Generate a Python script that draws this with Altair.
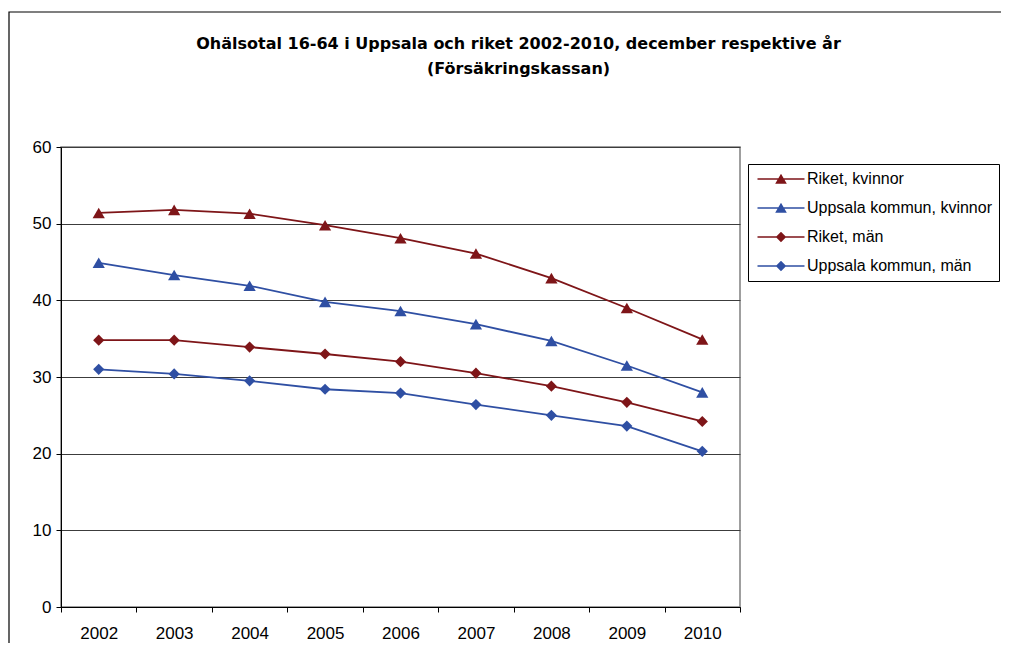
import altair as alt
import pandas as pd

years = ["2002", "2003", "2004", "2005", "2006", "2007", "2008", "2009", "2010"]
series = ["Riket, kvinnor", "Uppsala kommun, kvinnor", "Riket, män", "Uppsala kommun, män"]
riket_kvinnor = [51.4, 51.8, 51.3, 49.8, 48.1, 46.1, 42.9, 39.0, 34.9]
uppsala_kvinnor = [44.9, 43.3, 41.9, 39.8, 38.6, 36.9, 34.7, 31.5, 28.0]
riket_man = [34.8, 34.8, 33.9, 33.0, 32.0, 30.5, 28.8, 26.7, 24.2]
uppsala_man = [31.0, 30.4, 29.5, 28.4, 27.9, 26.4, 25.0, 23.6, 20.3]

colors = ["#7E1518", "#2F4FA3", "#7E1518", "#2F4FA3"]
kvinnor_series = series[:2]
man_series = series[2:]

# legend symbols (filled paths): a thin bar with the marker in the middle
TRI = "M-1,-0.13L7.545,-0.13L7.545,0.13L-1,0.13ZM3.273,-0.95L4.33,0.85L2.216,0.85Z"
DIA = "M-1,-0.13L7.545,-0.13L7.545,0.13L-1,0.13ZM3.273,-0.95L4.223,0L3.273,0.95L2.323,0Z"
legend_shapes = [TRI, TRI, DIA, DIA]

rows = []
for name, vals in zip(series, [riket_kvinnor, uppsala_kvinnor, riket_man, uppsala_man]):
    for y, v in zip(years, vals):
        rows.append({"year": y, "value": v, "series": name})
df = pd.DataFrame(rows)

FONT = "Liberation Sans"

x_enc = alt.X(
    "year:O",
    bandPosition=0.5,
    scale=alt.Scale(type="band", paddingInner=0, paddingOuter=0),
    axis=alt.Axis(
        title=None, tickBand="extent", labelAngle=0, tickSize=5,
        labelPadding=13, labelFontSize=17, labelFont=FONT, labelColor="#000",
        domainColor="#000", tickColor="#000", grid=False,
    ),
)
y_enc = alt.Y(
    "value:Q",
    scale=alt.Scale(domain=[0, 60], nice=False),
    axis=alt.Axis(
        title=None, values=[0, 10, 20, 30, 40, 50, 60], tickSize=5,
        labelPadding=5, labelFontSize=17, labelFont=FONT, labelColor="#000",
        domainColor="#000", tickColor="#000", grid=True, gridColor="#3c3c3c",
        gridOpacity=1, gridWidth=1,
    ),
)
# marks use the series in reverse order so their (hidden) legends stay separate
mark_scale = alt.Scale(domain=series[::-1], range=colors[::-1])
legend_scale = alt.Scale(domain=series, range=colors)

base = alt.Chart(df)

lines = base.mark_line(strokeWidth=1.8).encode(
    x=x_enc, y=y_enc,
    stroke=alt.Stroke("series:N", scale=mark_scale, legend=None),
    detail="series:N",
)
tri_points = base.transform_filter(
    alt.FieldOneOfPredicate(field="series", oneOf=kvinnor_series)
).mark_point(filled=True, opacity=1, size=150, shape="triangle-up").encode(
    x=x_enc, y=y_enc,
    fill=alt.Fill("series:N", scale=mark_scale, legend=None),
)
dia_points = base.transform_filter(
    alt.FieldOneOfPredicate(field="series", oneOf=man_series)
).mark_point(filled=True, opacity=1, size=125, shape="diamond").encode(
    x=x_enc, y=y_enc,
    fill=alt.Fill("series:N", scale=mark_scale, legend=None),
)

legend = alt.Legend(
    title=None, orient="none", legendX=687, legendY=17,
    strokeColor="#000", fillColor="#fff", padding=7, rowPadding=13,
    labelFontSize=16, labelFont=FONT, labelColor="#000", labelLimit=400,
    labelOffset=36, symbolSize=121,
)
legend_layer = base.mark_point(filled=True, size=121, opacity=1, clip=True).encode(
    x=alt.value(-1000), y=alt.value(-1000),
    color=alt.Color("series:N", scale=legend_scale, legend=legend),
    shape=alt.Shape("series:N", scale=alt.Scale(domain=series, range=legend_shapes), legend=legend),
)

border = alt.Chart(alt.Data(values=[{"a": 1}])).mark_rect(
    fill="transparent", stroke="#000", strokeWidth=1.2, clip=False
).encode(
    x=alt.value(-52), x2=alt.value(1000), y=alt.value(-135), y2=alt.value(560)
)

chart = alt.layer(border, lines, tri_points, dia_points, legend_layer).properties(
    width=679, height=460,
    autosize=alt.AutoSizeParams(type="none"),
    padding={"left": 53, "top": 139, "right": 261, "bottom": 36},
    background="#ffffff",
    title=alt.TitleParams(
        text=["Ohälsotal 16-64 i Uppsala och riket 2002-2010, december respektive år",
              "(Försäkringskassan)"],
        font="DejaVu Sans", fontSize=16, fontWeight="bold", color="#000",
        anchor="middle", frame="group", dx=118, offset=-82, baseline="bottom",
        lineHeight=25,
    ),
).configure_view(stroke="#808080", strokeWidth=1.5)

chart.save("out.html", embed_options={"renderer": "svg", "actions": False})
